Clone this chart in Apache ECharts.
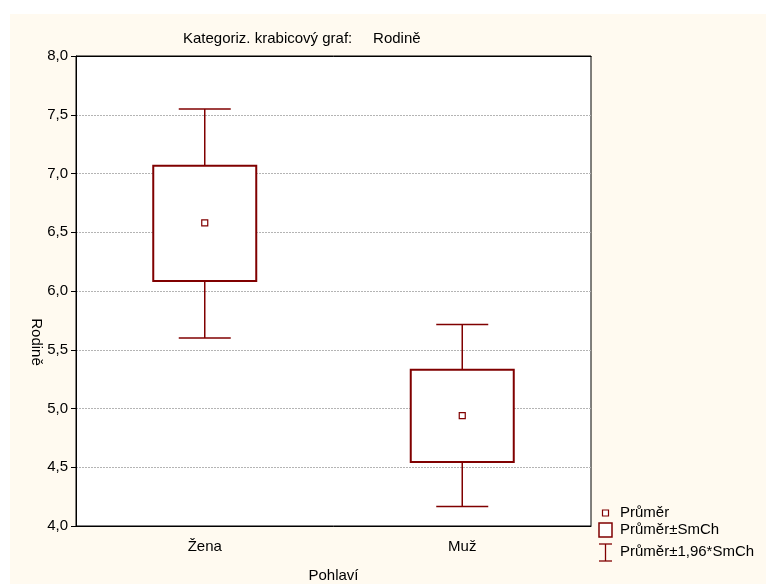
<!DOCTYPE html>
<html>
<head>
<meta charset="utf-8">
<script src="https://cdn.jsdelivr.net/npm/echarts@6/dist/echarts.min.js"></script>
<style>
  html, body { margin: 0; padding: 0; background: #fff; }
  #chart { width: 766px; height: 584px; }
</style>
</head>
<body>
<div id="chart"></div>
<script>
const categories = ["Žena", "Muž"];
const means = [6.58, 4.94];
const seLow = [6.085, 4.545];
const seHigh = [7.065, 5.33];
const ciLow = [5.60, 4.165];
const ciHigh = [7.55, 5.715];

const DARK_RED = "#800000";
const FONT = "Liberation Sans, Arial, sans-serif";

const chart = echarts.init(document.getElementById("chart"));

function renderBox(params, api) {
  const idx = api.value(0);
  const mid = api.coord([idx, api.value(1)]);
  const boxTop = api.coord([idx, api.value(3)]);
  const boxBottom = api.coord([idx, api.value(2)]);
  const capTop = api.coord([idx, api.value(5)]);
  const capBottom = api.coord([idx, api.value(4)]);
  const x = mid[0];
  const boxHalf = 51.5;
  const capHalf = 26;
  const line = { stroke: DARK_RED, lineWidth: 1.5 };

  return {
    type: "group",
    children: [
      { type: "line", shape: { x1: x, y1: capTop[1], x2: x, y2: boxTop[1] }, style: line },
      { type: "line", shape: { x1: x, y1: boxBottom[1], x2: x, y2: capBottom[1] }, style: line },
      { type: "line", shape: { x1: x - capHalf, y1: capTop[1], x2: x + capHalf, y2: capTop[1] }, style: line },
      { type: "line", shape: { x1: x - capHalf, y1: capBottom[1], x2: x + capHalf, y2: capBottom[1] }, style: line },
      {
        type: "rect",
        shape: { x: x - boxHalf, y: boxTop[1], width: boxHalf * 2, height: boxBottom[1] - boxTop[1] },
        style: { fill: "#fff", stroke: DARK_RED, lineWidth: 2 }
      },
      {
        type: "rect",
        shape: { x: x - 3, y: mid[1] - 3, width: 6, height: 6 },
        style: { fill: "#fff", stroke: DARK_RED, lineWidth: 1.2 }
      }
    ]
  };
}

const legendX = 599;
const legendItems = [
  { text: "Průměr", y: 513 },
  { text: "Průměr±SmCh", y: 530 },
  { text: "Průměr±1,96*SmCh", y: 552 }
];

chart.setOption({
  backgroundColor: "#fff",
  animation: false,
  title: {
    text: "Kategoriz. krabicový graf:     Rodině",
    left: 178,
    top: 26,
    textStyle: { fontFamily: FONT, fontSize: 15, fontWeight: "normal", color: "#000" }
  },
  grid: {
    left: 76,
    right: 175,
    top: 56,
    bottom: 58,
    outerBoundsMode: "none",
    show: true,
    backgroundColor: "#fff",
    borderColor: "#000",
    borderWidth: 1
  },
  xAxis: [
    {
      type: "category",
      data: categories,
      position: "bottom",
      axisLine: { lineStyle: { color: "#000", width: 1 } },
      axisTick: { inside: true, alignWithLabel: true, length: 5, lineStyle: { color: "#000" } },
      axisLabel: { color: "#000", fontFamily: FONT, fontSize: 15, margin: 13 },
      name: "Pohlaví",
      nameLocation: "middle",
      nameGap: 42,
      nameTextStyle: { color: "#000", fontFamily: FONT, fontSize: 15 },
      splitLine: { show: false }
    },
    {
      type: "category",
      data: categories,
      position: "top",
      axisLine: { lineStyle: { color: "#000", width: 1 } },
      axisTick: { inside: true, alignWithLabel: true, length: 5, lineStyle: { color: "#000" } },
      axisLabel: { show: false },
      splitLine: { show: false }
    }
  ],
  yAxis: {
    type: "value",
    min: 4,
    max: 8,
    interval: 0.5,
    axisLine: { show: true, lineStyle: { color: "#000", width: 1 } },
    axisTick: { show: true, length: 5, lineStyle: { color: "#000" } },
    axisLabel: {
      color: "#000",
      fontFamily: FONT,
      fontSize: 15,
      margin: 8,
      formatter: (v) => v.toFixed(1).replace(".", ",")
    },
    splitLine: { lineStyle: { color: "#b4b4b4", type: [2, 1], width: 1 } }
  },
  graphic: [
    {
      type: "rect",
      z: -10,
      silent: true,
      shape: { x: 10, y: 14, width: 756, height: 570 },
      style: { fill: "#fffaf0" }
    },
    {
      type: "text",
      x: 36,
      y: 342,
      rotation: -Math.PI / 2,
      style: {
        text: "Rodině",
        fill: "#000",
        font: "15px " + FONT,
        align: "center",
        verticalAlign: "middle"
      }
    },
    {
      type: "rect",
      shape: { x: legendX + 3.5, y: legendItems[0].y - 3, width: 6, height: 6 },
      style: { fill: "#fff", stroke: DARK_RED, lineWidth: 1.2 }
    },
    {
      type: "rect",
      shape: { x: legendX, y: legendItems[1].y - 7, width: 13, height: 14 },
      style: { fill: "#fff", stroke: DARK_RED, lineWidth: 1.5 }
    },
    {
      type: "line",
      shape: { x1: legendX + 6.5, y1: legendItems[2].y - 8, x2: legendX + 6.5, y2: legendItems[2].y + 9 },
      style: { stroke: DARK_RED, lineWidth: 1.3 }
    },
    {
      type: "line",
      shape: { x1: legendX, y1: legendItems[2].y - 8, x2: legendX + 13, y2: legendItems[2].y - 8 },
      style: { stroke: DARK_RED, lineWidth: 1.3 }
    },
    {
      type: "line",
      shape: { x1: legendX, y1: legendItems[2].y + 9, x2: legendX + 13, y2: legendItems[2].y + 9 },
      style: { stroke: DARK_RED, lineWidth: 1.3 }
    }
  ].concat(legendItems.map((item) => ({
    type: "text",
    x: 620,
    y: item.y,
    style: {
      text: item.text,
      fill: "#000",
      font: "15px " + FONT,
      verticalAlign: "middle"
    }
  }))),
  series: [
    {
      type: "custom",
      renderItem: renderBox,
      encode: { x: 0, y: [1, 2, 3, 4, 5] },
      data: categories.map((c, i) => [i, means[i], seLow[i], seHigh[i], ciLow[i], ciHigh[i]]),
      z: 5
    }
  ]
});
</script>
</body>
</html>
